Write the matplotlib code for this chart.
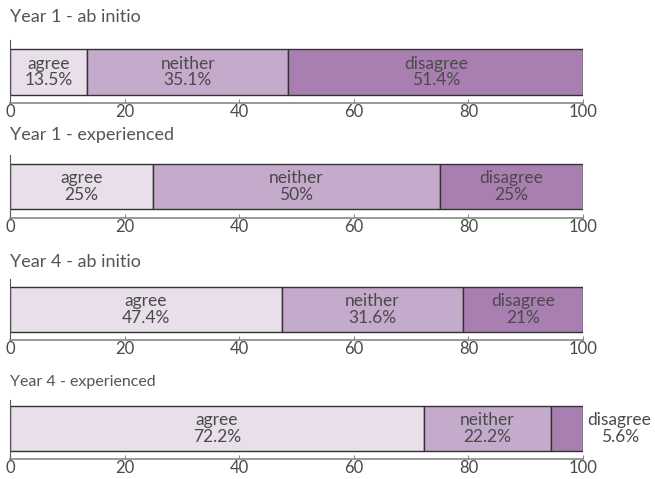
import matplotlib
matplotlib.use("Agg")
import matplotlib.pyplot as plt

# Data
groups = ["Year 1 - ab initio", "Year 1 - experienced",
          "Year 4 - ab initio", "Year 4 - experienced"]
categories = ["agree", "neither", "disagree"]
agree = [13.5, 25, 47.4, 72.2]
neither = [35.1, 50, 31.6, 22.2]
disagree = [51.4, 25, 21, 5.6]
value_labels = [["13.5%", "35.1%", "51.4%"],
                ["25%", "50%", "25%"],
                ["47.4%", "31.6%", "21%"],
                ["72.2%", "22.2%", "5.6%"]]
ticks = [0, 20, 40, 60, 80, 100]

colors = ["#e8dfea", "#c4aacb", "#a97fb1"]
plt.rcParams['font.family'] = ['Lato', 'DejaVu Sans']

W, H = 655, 479
fig = plt.figure(figsize=(W / 100, H / 100), dpi=100)

# (axes top px, axes bottom px, bar top px, bar bottom px, title y px, title size)
layout = [(40, 103, 49, 95, 17, 13),
          (155, 218, 164, 209, 135, 13),
          (279, 340, 287, 332, 262, 13),
          (400, 459, 406, 451, 382, 11.5)]

x0, x1 = 10, 583
for i, (top, bot, btop, bbot, ty, tsize) in enumerate(layout):
    ax = fig.add_axes([x0 / W, 1 - bot / H, (x1 - x0) / W, (bot - top) / H])
    ax.set_xlim(0, 100)
    ax.set_ylim(0, 1)
    ybottom = (bot - bbot) / (bot - top)
    height = (bbot - btop) / (bot - top)
    vals = [agree[i], neither[i], disagree[i]]
    left = 0
    for j, v in enumerate(vals):
        ax.barh(ybottom, v, height=height, left=left, align='edge',
                color=colors[j], edgecolor='#333333', linewidth=1.0)
        txt = categories[j] + "\n" + value_labels[i][j]
        xpos = left + v / 2 if v >= 8 else 106.4
        ax.text(xpos, ybottom + height / 2, txt, ha='center', va='center',
                fontsize=12.5, color='#4a4a4a', linespacing=1.05,
                clip_on=False)
        left += v
    for s in ['top', 'right']:
        ax.spines[s].set_visible(False)
    ax.spines['left'].set_color('#555555')
    ax.spines['left'].set_linewidth(0.8)
    ax.spines['bottom'].set_color('#888888')
    ax.spines['bottom'].set_linewidth(1.2)
    ax.set_yticks([])
    ax.set_xticks(ticks)
    ax.tick_params(axis='x', direction='in', length=3, colors='#888888',
                   labelcolor='#4a4a4a', labelsize=12, pad=1)
    fig.text(x0 / W, 1 - ty / H, groups[i], ha='left', va='center',
             fontsize=tsize, color='#555555')

fig.savefig("out.png", dpi=100)
